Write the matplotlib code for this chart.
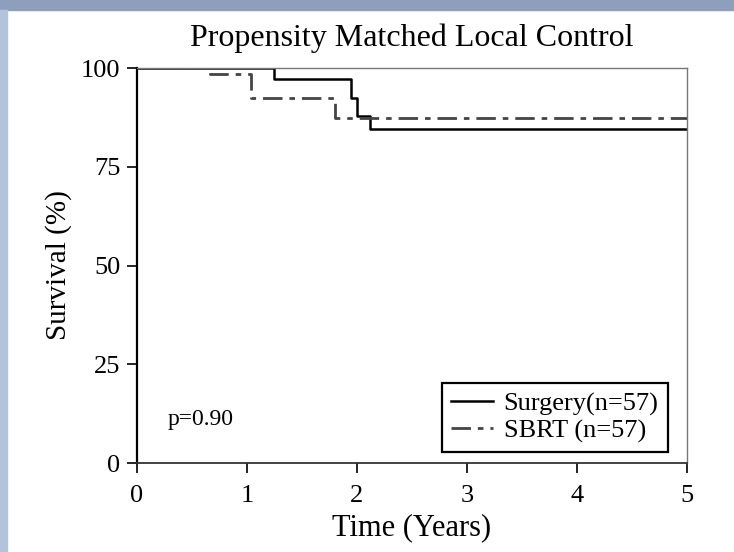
import matplotlib
matplotlib.use("Agg")
import matplotlib.pyplot as plt
from matplotlib.patches import Rectangle

# Kaplan-Meier step values
surgery_t = [0, 1.25, 1.95, 2.0, 2.12, 5]
surgery_s = [100, 97.2, 92.3, 87.8, 84.5, 84.5]
sbrt_t = [0, 0.66, 1.04, 1.80, 5]
sbrt_s = [100, 98.6, 92.3, 87.3, 87.3]

x_ticks = [0, 1, 2, 3, 4, 5]
y_ticks = [0, 25, 50, 75, 100]
labels = ["Surgery(n=57)", "SBRT (n=57)"]
title = "Propensity Matched Local Control"
p_text = "p=0.90"

serif = "Liberation Serif"

fig = plt.figure(figsize=(7.34, 5.52), dpi=100)
fig.patch.set_facecolor("white")
# slide background strips
fig.add_artist(Rectangle((0, 0.982), 1, 0.018, transform=fig.transFigure,
                         color="#8e9fbb", zorder=0))
fig.add_artist(Rectangle((0, 0), 0.0095, 0.982, transform=fig.transFigure,
                         color="#b3c3dc", zorder=0))

ax = fig.add_axes([0.1866, 0.1612, 0.7493, 0.7156])
ax.step(surgery_t, surgery_s, where="post", color="black", lw=1.8, label=labels[0])
ax.step(sbrt_t, sbrt_s, where="post", color="#444444", lw=2.0,
        linestyle=(0, (7, 2.5, 2, 2.5)), label=labels[1])

ax.set_xlim(0, 5)
ax.set_ylim(0, 100)
ax.set_xticks(x_ticks)
ax.set_yticks(y_ticks)
ax.tick_params(direction="out", length=7, width=1.2, labelsize=19)
ax.tick_params(axis="x", pad=9)
ax.tick_params(axis="y", pad=5)
for lab in ax.get_xticklabels() + ax.get_yticklabels():
    lab.set_fontfamily(serif)

ax.spines["left"].set_linewidth(1.6)
ax.spines["bottom"].set_linewidth(1.3)
ax.spines["bottom"].set_color("#333333")
for s in ["top", "right"]:
    ax.spines[s].set_linewidth(1.0)
    ax.spines[s].set_color("#777777")

ax.set_title(title, fontsize=23, fontfamily=serif, pad=16)
ax.set_xlabel("Time (Years)", fontsize=22, fontfamily=serif, labelpad=4)
ax.set_ylabel("Survival (%)", fontsize=21, fontfamily=serif, labelpad=6)

ax.text(0.28, 11, p_text, fontsize=17, fontfamily=serif, va="center")

leg = ax.legend(loc="lower right", bbox_to_anchor=(0.965, 0.028), borderaxespad=0,
                fancybox=False, edgecolor="black", framealpha=1,
                prop={"family": serif, "size": 19},
                handlelength=1.6, handletextpad=0.4, borderpad=0.35, labelspacing=0.12)
leg.get_frame().set_linewidth(1.6)

fig.savefig("out.png", dpi=100)
